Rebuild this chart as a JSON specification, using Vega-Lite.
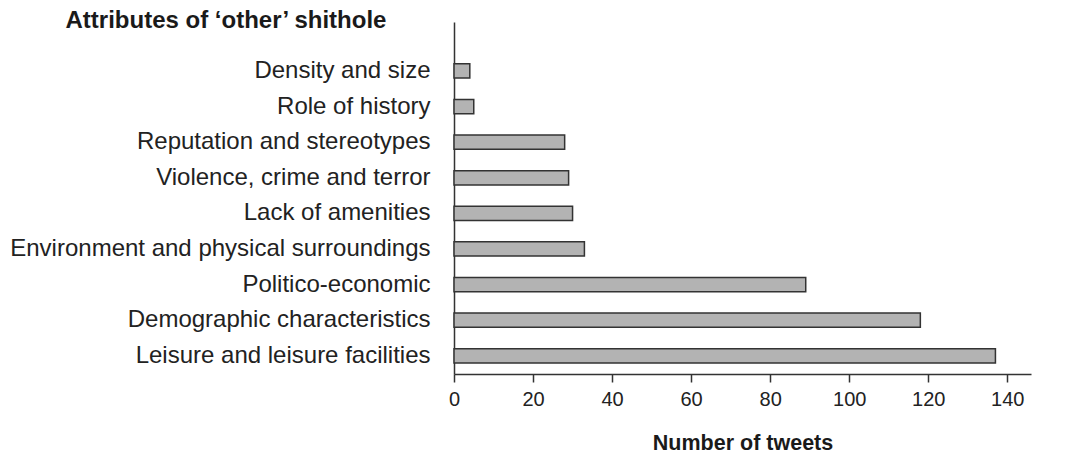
{
  "$schema": "https://vega.github.io/schema/vega-lite/v6.json",
  "width": 577,
  "height": 352,
  "autosize": {"type": "none"},
  "padding": {"left": 454, "top": 22, "right": 43, "bottom": 86},
  "background": "white",
  "data": {
    "values": [
      {"attribute": "Density and size", "tweets": 4},
      {"attribute": "Role of history", "tweets": 5},
      {"attribute": "Reputation and stereotypes", "tweets": 28},
      {"attribute": "Violence, crime and terror", "tweets": 29},
      {"attribute": "Lack of amenities", "tweets": 30},
      {"attribute": "Environment and physical surroundings", "tweets": 33},
      {"attribute": "Politico-economic", "tweets": 89},
      {"attribute": "Demographic characteristics", "tweets": 118},
      {"attribute": "Leisure and leisure facilities", "tweets": 137}
    ]
  },
  "mark": {"type": "bar", "fill": "#b3b3b3", "stroke": "#333333", "strokeWidth": 1.5},
  "encoding": {
    "y": {
      "field": "attribute",
      "type": "nominal",
      "sort": null,
      "scale": {"paddingInner": 0.6, "paddingOuter": 0.744, "align": 0.79},
      "axis": {
        "title": "Attributes of \u2018other\u2019 shithole",
        "titleAngle": 0,
        "titleX": -389,
        "titleY": 5,
        "titleAlign": "left",
        "titleBaseline": "alphabetic",
        "titleFont": "Liberation Sans",
        "titleFontSize": 24,
        "titleFontWeight": "bold",
        "titleColor": "#1a1a1a",
        "ticks": false,
        "tickSize": 0,
        "labelPadding": 24,
        "labelFont": "Liberation Sans",
        "labelFontSize": 24,
        "labelColor": "#222222",
        "labelLimit": 500,
        "domainColor": "#333333",
        "domainWidth": 1.5
      }
    },
    "x": {
      "field": "tweets",
      "type": "quantitative",
      "scale": {"domain": [0, 146], "nice": false},
      "axis": {
        "values": [0, 20, 40, 60, 80, 100, 120, 140],
        "grid": false,
        "title": "Number of tweets",
        "titleFont": "Liberation Sans",
        "titleFontSize": 21.5,
        "titleFontWeight": "bold",
        "titleColor": "#1a1a1a",
        "titlePadding": 23,
        "labelFont": "Liberation Sans",
        "labelFontSize": 20,
        "labelColor": "#222222",
        "labelPadding": 7,
        "labelFlush": false,
        "tickSize": 8,
        "tickColor": "#333333",
        "tickWidth": 1.5,
        "domainColor": "#333333",
        "domainWidth": 1.5
      }
    }
  },
  "config": {"view": {"stroke": null}}
}
